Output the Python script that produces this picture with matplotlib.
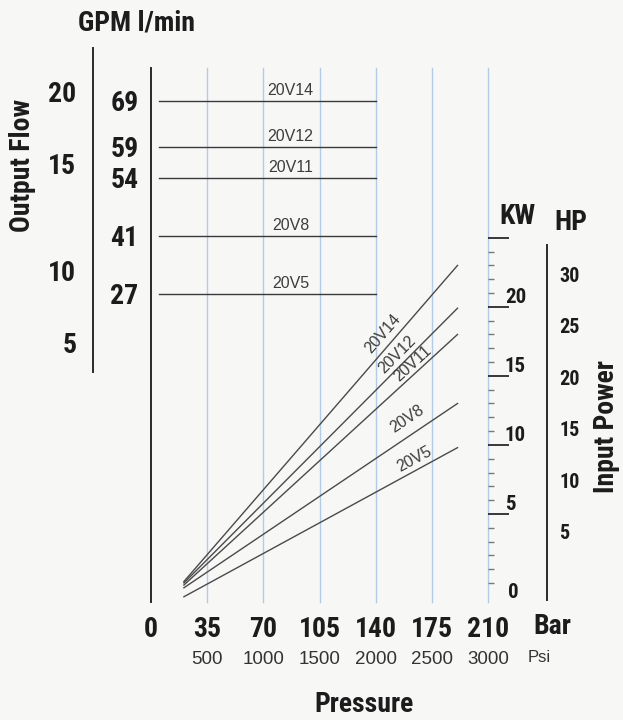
import numpy as np
import matplotlib
matplotlib.use('Agg')
import matplotlib.pyplot as plt
from matplotlib import font_manager as fm
from matplotlib import transforms as mtransforms

# ---------------- data ----------------
models = ['20V14', '20V12', '20V11', '20V8', '20V5']
flow_lpm = [69, 59, 54, 41, 27]            # output flow, l/min
flow_bar_range = [5, 140]                  # pressure span of flow lines, bar
power_bar_range = [20.5, 191]              # pressure span of power lines, bar
power_kw_start = [0.1, 0.0, -0.15, -0.35, -1.0]
power_kw_end = [23.0, 19.9, 18.0, 13.0, 9.8]
bar_ticks = [0, 35, 70, 105, 140, 175, 210]
psi_labels = ['500', '1000', '1500', '2000', '2500', '3000']
gpm_ticks = [5, 10, 15, 20]
kw_major = [5, 10, 15, 20, 25]
kw_labels = [0, 5, 10, 15, 20]
hp_ticks = [5, 10, 15, 20, 25, 30]

# ---------------- fonts ----------------
names = {f.name for f in fm.fontManager.ttflist}
COND = 'Liberation Sans'
for cand in ['Roboto Condensed', 'Liberation Sans Narrow']:
    if cand in names:
        COND = cand
        break
REG = 'Liberation Sans'
plt.rcParams['font.family'] = [REG, 'DejaVu Sans']

W, H = 623, 720
BG = '#f7f7f6'
INK = '#1c1c1c'
GRID = '#b3cbe6'
LINE = '#4a4a4a'

fig = plt.figure(figsize=(W / 100, H / 100), dpi=100, facecolor=BG)


def fx(px):
    return px / W


def fy(py):
    return 1 - py / H


def piecewise_scale(knots_v, knots_pos):
    """Non-uniform printed scale of the original nomogram (piecewise linear)."""
    v = np.asarray(knots_v, float)
    t = -np.asarray(knots_pos, float)
    s0 = (t[1] - t[0]) / (v[1] - v[0])
    s1 = (t[-1] - t[-2]) / (v[-1] - v[-2])

    def fwd(x):
        x = np.asarray(x, float)
        y = np.interp(x, v, t)
        y = np.where(x < v[0], t[0] + (x - v[0]) * s0, y)
        y = np.where(x > v[-1], t[-1] + (x - v[-1]) * s1, y)
        return y

    def inv(y):
        y = np.asarray(y, float)
        x = np.interp(y, t, v)
        x = np.where(y < t[0], v[0] + (y - t[0]) / s0, x)
        x = np.where(y > t[-1], v[-1] + (y - t[-1]) / s1, x)
        return x

    return fwd, inv


BIG = dict(family=[COND, 'DejaVu Sans'], weight='bold', size=20, color=INK)
MID = dict(BIG, size=15)

# ---------------- main (flow) axes ----------------
TOP, BOT = 68, 602
ax = fig.add_axes([fx(151), fy(BOT), 337 / W, (BOT - TOP) / H])
ax.set_facecolor('none')
ax.set_xlim(0, 210)
f_fwd, f_inv = piecewise_scale([27, 41, 54, 59, 69],
                               [294, 235.7, 178, 146.7, 100.7])
ax.set_yscale('function', functions=(f_fwd, f_inv))
ax.set_ylim(float(f_inv(-BOT)), float(f_inv(-TOP)))
for s in ['top', 'right', 'bottom']:
    ax.spines[s].set_visible(False)
ax.spines['left'].set_color('#2a2a2a')
ax.spines['left'].set_linewidth(1.4)

for b in bar_ticks[1:]:
    ax.axvline(b, color=GRID, lw=1.0, zorder=0, clip_on=False)

ax.set_xticks(bar_ticks)
ax.set_xticklabels([str(b) for b in bar_ticks], fontdict=BIG)
ax.tick_params(axis='x', length=0, pad=10)

ax.set_yticks(flow_lpm)
ax.set_yticklabels([str(v) for v in flow_lpm], fontdict=BIG)
ax.set_yticks([], minor=True)
ax.tick_params(axis='y', length=0, pad=9)

for m, q in zip(models, flow_lpm):
    ax.plot(flow_bar_range, [q, q], color='#3a3a3a', lw=1.0)
    ax.annotate(m, (87, q), xytext=(0, 2), textcoords='offset points',
                ha='center', va='bottom', fontsize=11.5, color='#3d3d3d',
                family=REG)

# psi labels (secondary axis under bar labels)
sec = ax.secondary_xaxis('bottom')
sec.spines['bottom'].set_visible(False)
sec.set_xticks(bar_ticks[1:])
sec.set_xticklabels(psi_labels, fontsize=13.5, color='#333333', family=REG)
sec.tick_params(length=0, pad=35)

# ---------------- power (kW) axes ----------------
axk = ax.twinx()
axk.set_ylim(-1.38, 37.3)
for s in axk.spines.values():
    s.set_visible(False)
axk.yaxis.set_ticks_position('right')
axk.set_yticks(kw_major)
axk.set_yticklabels([])
minor = [v for v in range(0, 25) if v not in kw_major]
axk.set_yticks(minor, minor=True)
axk.tick_params(axis='y', which='major', direction='out', length=15,
                width=1.3, color='#2a2a2a')
axk.tick_params(axis='y', which='minor', direction='out', length=4.5,
                width=1.0, color='#7a7a7a')

blend = mtransforms.blended_transform_factory(axk.transAxes, axk.transData)
for v in kw_labels:
    if v == 0:
        axk.text(1.06, v, str(v), transform=blend, ha='left', va='top',
                 **MID)
    else:
        axk.annotate(str(v), (1.05, v), xycoords=blend, xytext=(0, 3),
                     textcoords='offset points', ha='left', va='baseline',
                     **MID)

label_bar = [150, 158, 167, 165, 167]
label_off = [3.0, 2.0, 1.0, 6.0, 2.0]
for m, k0, k1, lb, off in zip(models, power_kw_start, power_kw_end,
                              label_bar, label_off):
    axk.plot(power_bar_range, [k0, k1], color=LINE, lw=1.0)
    p0 = axk.transData.transform((power_bar_range[0], k0))
    p1 = axk.transData.transform((power_bar_range[1], k1))
    ang = np.degrees(np.arctan2(p1[1] - p0[1], p1[0] - p0[0]))
    t = (lb - power_bar_range[0]) / (power_bar_range[1] - power_bar_range[0])
    yk = k0 + t * (k1 - k0)
    r = np.radians(ang)
    axk.annotate(m, (lb, yk), xytext=(-np.sin(r) * off, np.cos(r) * off),
                 textcoords='offset points', rotation=ang,
                 rotation_mode='anchor', ha='center', va='bottom',
                 fontsize=11.5, color='#3d3d3d', family=REG)

# HP scale
hp = axk.secondary_yaxis((547 - 151) / 337,
                         functions=(lambda k: k / 0.7457, lambda h: h * 0.7457))
hp.set_yticks(hp_ticks)
hp.set_yticklabels([str(h) for h in hp_ticks], fontdict=dict(BIG, size=14.5))
hp.tick_params(length=0, pad=9)
hp.spines['right'].set_color('#2a2a2a')
hp.spines['right'].set_linewidth(1.4)
hp.spines['right'].set_bounds(-1.65, 32.8)

# ---------------- GPM scale ----------------
G_TOP, G_BOT = 48, 372
axg = fig.add_axes([fx(93), fy(G_BOT), 0.0001, (G_BOT - G_TOP) / H])
axg.set_facecolor('none')
g_fwd, g_inv = piecewise_scale([5, 10, 15, 20], [342, 270, 163, 92])
axg.set_yscale('function', functions=(g_fwd, g_inv))
axg.set_ylim(float(g_inv(-G_BOT)), float(g_inv(-G_TOP)))
axg.set_xticks([])
for s in ['top', 'right', 'bottom']:
    axg.spines[s].set_visible(False)
axg.spines['left'].set_color('#2a2a2a')
axg.spines['left'].set_linewidth(1.4)
axg.set_yticks(gpm_ticks)
axg.set_yticklabels([str(g) for g in gpm_ticks], fontdict=BIG)
axg.set_yticks([], minor=True)
axg.tick_params(axis='y', length=0, pad=12)

# ---------------- titles ----------------
fig.text(fx(137), fy(23), 'GPM l/min', ha='center', va='center', **BIG)
fig.text(fx(22), fy(165), 'Output Flow', rotation=90, ha='center',
         va='center', **BIG)
fig.text(fx(517), fy(216), 'KW', ha='center', va='center', **BIG)
fig.text(fx(571), fy(222), 'HP', ha='center', va='center', **BIG)
fig.text(fx(607), fy(427), 'Input Power', rotation=90, ha='center',
         va='center', **BIG)
fig.text(fx(552), fy(626), 'Bar', ha='center', va='center', **BIG)
fig.text(fx(539), fy(657), 'Psi', ha='center', va='center', fontsize=12,
         color='#333333', family=REG)
fig.text(fx(364), fy(704), 'Pressure', ha='center', va='center', **BIG)

fig.savefig('out.png', dpi=100, facecolor=BG)
